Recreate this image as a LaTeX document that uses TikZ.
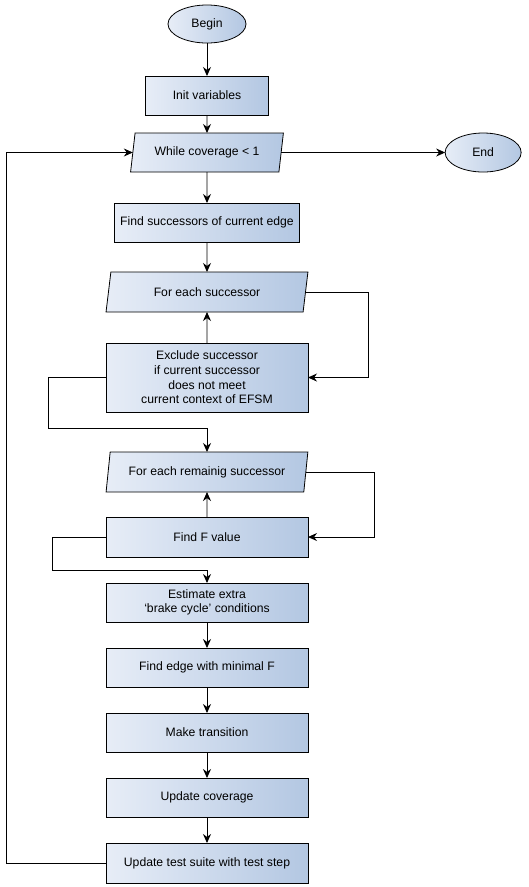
\documentclass[tikz,border=0pt]{standalone}
\usepackage{fontspec}
\setmainfont{Liberation Sans}
\usepackage{tikz}
\usepackage{xcolor}
\usetikzlibrary{shapes.geometric,arrows.meta,positioning}
\definecolor{flowLight}{HTML}{E7EDF7}
\definecolor{flowDark}{HTML}{B3C7E2}

\begin{document}
\begin{tikzpicture}[
        node distance=26pt,
        every node/.style={font=\fontsize{12.2}{14.6}\selectfont,outer sep=0pt},
        box/.style={rectangle,draw=black,left color=flowLight,right color=flowDark,
                    minimum height=39pt,minimum width=202pt,inner sep=2pt,
                    align=center,line width=0.8pt},
        term/.style={ellipse,draw=black,left color=flowLight,right color=flowDark,
                    minimum height=38pt,minimum width=78pt,inner sep=1pt,line width=0.8pt},
        loopbox/.style={trapezium,trapezium left angle=76,trapezium right angle=104,
                    trapezium stretches=true,draw=black,left color=flowLight,
                    right color=flowDark,minimum height=40pt,minimum width=202pt,
                    inner sep=1pt,line width=0.8pt},
        arr/.style={-{Stealth[length=9pt,width=8pt]},line width=0.9pt}
      ]
        \useasboundingbox (0,0) rectangle (528pt,-887pt);
        \node[term] (begin) at (207pt,-24pt) {Begin};
        \node[box,minimum width=123pt,below=33pt of begin] (init) {Init variables};
        \node[loopbox,minimum width=153pt,minimum height=39pt,below=18pt of init] (while) {While coverage < 1};
        \node[term,minimum width=76pt,minimum height=39pt,right=164pt of while] (end) {End};
        \node[box,minimum width=185pt,below=31pt of while] (succ) {Find successors of current edge};
        \node[loopbox,below=30pt of succ] (each) {For each successor};
        \node[box,minimum height=69pt,below=31pt of each] (exclude) {Exclude successor\\if current successor\\does not meet\\current context of EFSM};
        \node[loopbox,below=40pt of exclude] (remain) {For each remainig successor};
        \node[box,minimum height=40pt,below=25pt of remain] (findf) {Find F value};
        \node[box,below=of findf] (estimate) {Estimate extra\\`brake cycle' conditions};
        \node[box,below=of estimate] (minf) {Find edge with minimal F};
        \node[box,below=of minf] (trans) {Make transition};
        \node[box,below=of trans] (cover) {Update coverage};
        \node[box,minimum height=40pt,below=of cover] (suite) {Update test suite with test step};

        \draw[arr] (begin)--(init);
        \draw[arr] (init)--(while);
        \draw[arr] (while)--(end);
        \draw[arr] (while)--(succ);
        \draw[arr] (succ)--(each);
        \draw[arr] (each.east) -- ++(63pt,0) |- (exclude.east);
        \draw[arr] (exclude)--(each);
        \draw[arr] (exclude.west) -- ++(-58pt,0) |- ([yshift=24pt]remain.north) -- (remain.north);
        \draw[arr] (remain.east) -- ++(69pt,0) |- (findf.east);
        \draw[arr] (findf)--(remain);
        \draw[arr] (findf.west) -- ++(-54pt,0) |- ([yshift=13pt]estimate.north) -- (estimate.north);
        \draw[arr] (estimate)--(minf);
        \draw[arr] (minf)--(trans);
        \draw[arr] (trans)--(cover);
        \draw[arr] (cover)--(suite);
        % back to the while loop
        \draw[arr] (suite.west) -- ++(-100pt,0) |- (while.west);
      \end{tikzpicture}
\end{document}
